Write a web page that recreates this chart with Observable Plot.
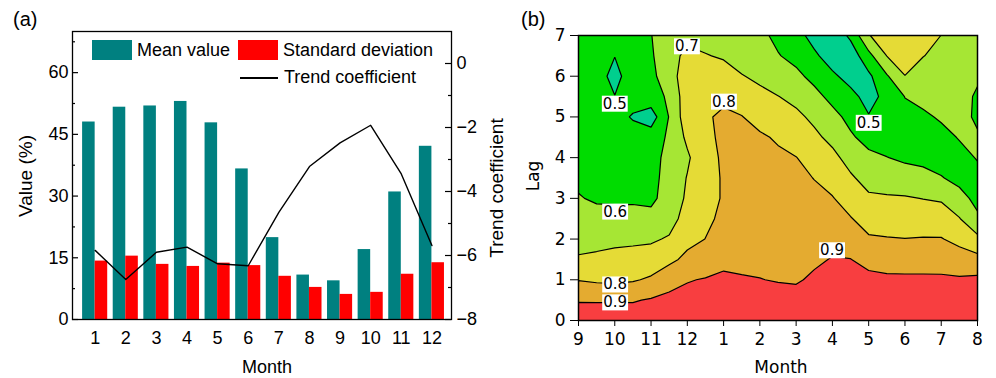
<!DOCTYPE html>
<html><head><meta charset="utf-8">
<script src="https://cdn.jsdelivr.net/npm/d3@7"></script>
<script src="https://cdn.jsdelivr.net/npm/@observablehq/plot@0.6"></script>
<style>
html,body{margin:0;padding:0;background:#fff;}
#wrap{position:relative;width:996px;height:378px;overflow:hidden;background:#fff;}
.abs{position:absolute;white-space:nowrap;line-height:1;color:#000;}
.fa{font-family:"Liberation Sans",Arial,sans-serif;}
.fb{font-family:"DejaVu Sans",sans-serif;}
#wrap svg{position:absolute;top:0;max-width:none;}
</style></head><body><div id="wrap"></div>
<script>
// ---------- Panel (a) data ----------
const monthsA = [1, 2, 3, 4, 5, 6, 7, 8, 9, 10, 11, 12];
const meanValue = [48.0, 51.6, 51.9, 53.0, 47.8, 36.6, 19.9, 10.8, 9.4, 17.0, 31.0, 42.1];
const stdDeviation = [14.2, 15.4, 13.4, 12.9, 13.7, 13.1, 10.5, 7.8, 6.1, 6.6, 11.0, 13.8];
const trendCoefficient = [-5.84, -6.75, -5.90, -5.74, -6.26, -6.32, -4.65, -3.22, -2.48, -1.93, -3.45, -5.69];
const valueTicks = [0, 15, 30, 45, 60];
const valueMinorTicks = [7.5, 22.5, 37.5, 52.5, 67.5];
const trendTicks = [-8, -6, -4, -2, 0];
const trendMinorTicks = [-7, -5, -3, -1];

// ---------- Panel (b) data ----------
const lagMonths = [9, 10, 11, 12, 1, 2, 3, 4, 5, 6, 7, 8];
const lagTicks = [0, 1, 2, 3, 4, 5, 6, 7];
const corrLevels = [0.4, 0.5, 0.6, 0.7, 0.8, 0.9];
const corrColors = ["#00cf8e", "#00dc00", "#a6e634", "#e5db36", "#e4ab30", "#f83e40"];
// correlation sampled every half month (columns, Sep..Aug) and every 0.5 lag (rows, lag 0..7)
const corrRows = [
  [0.95,0.95,0.95,0.95,0.95,0.96,0.96,0.96,0.96,0.96,0.96,0.96,0.96,0.96,0.97,0.97,0.96,0.96,0.96,0.96,0.96,0.96,0.96],
  [0.894,0.893,0.893,0.893,0.908,0.920,0.927,0.940,0.945,0.945,0.940,0.935,0.935,0.940,0.950,0.950,0.950,0.950,0.950,0.950,0.950,0.950,0.950],
  [0.796,0.784,0.780,0.791,0.813,0.870,0.895,0.905,0.915,0.905,0.902,0.895,0.890,0.915,0.930,0.925,0.925,0.915,0.915,0.915,0.915,0.910,0.920],
  [0.709,0.719,0.730,0.737,0.746,0.775,0.825,0.853,0.880,0.885,0.880,0.875,0.870,0.885,0.905,0.902,0.870,0.865,0.862,0.862,0.860,0.850,0.830],
  [0.670,0.670,0.677,0.681,0.686,0.710,0.771,0.801,0.845,0.865,0.865,0.860,0.860,0.860,0.870,0.850,0.810,0.805,0.802,0.805,0.805,0.770,0.725],
  [0.637,0.627,0.623,0.623,0.628,0.660,0.740,0.785,0.815,0.850,0.855,0.850,0.850,0.840,0.840,0.805,0.765,0.760,0.750,0.750,0.745,0.705,0.615],
  [0.605,0.590,0.590,0.590,0.580,0.640,0.715,0.780,0.805,0.840,0.845,0.840,0.835,0.820,0.805,0.760,0.715,0.710,0.708,0.698,0.690,0.630,0.575],
  [0.585,0.575,0.575,0.580,0.575,0.630,0.705,0.780,0.805,0.835,0.835,0.830,0.820,0.798,0.765,0.713,0.665,0.655,0.640,0.630,0.605,0.575,0.575],
  [0.570,0.565,0.565,0.570,0.570,0.625,0.685,0.775,0.810,0.830,0.820,0.815,0.802,0.765,0.725,0.665,0.620,0.602,0.585,0.575,0.565,0.575,0.605],
  [0.565,0.560,0.560,0.550,0.550,0.615,0.720,0.780,0.817,0.820,0.812,0.790,0.760,0.720,0.675,0.612,0.570,0.560,0.560,0.565,0.575,0.605,0.610],
  [0.560,0.555,0.540,0.490,0.450,0.605,0.760,0.785,0.822,0.803,0.770,0.745,0.720,0.680,0.627,0.575,0.505,0.530,0.575,0.585,0.610,0.630,0.585],
  [0.560,0.550,0.502,0.545,0.560,0.615,0.760,0.770,0.775,0.760,0.725,0.702,0.675,0.627,0.575,0.525,0.470,0.525,0.602,0.625,0.640,0.640,0.585],
  [0.560,0.540,0.470,0.550,0.580,0.645,0.770,0.750,0.740,0.705,0.680,0.650,0.620,0.575,0.515,0.470,0.480,0.590,0.698,0.665,0.660,0.650,0.615],
  [0.560,0.545,0.502,0.550,0.590,0.655,0.730,0.705,0.690,0.660,0.645,0.605,0.575,0.515,0.460,0.440,0.570,0.701,0.750,0.702,0.680,0.660,0.630],
  [0.560,0.550,0.540,0.560,0.598,0.640,0.670,0.665,0.660,0.650,0.620,0.580,0.530,0.470,0.430,0.520,0.695,0.750,0.780,0.740,0.699,0.665,0.640]
];
const labelMonthIdx = [1.0, 2.99, 4.01, 8.0, 1.01, 1.01, 1.01, 6.99];
const labelLag = [5.32, 6.73, 5.37, 4.85, 2.67, 0.88, 0.44, 1.72];
const labelText = ["0.5", "0.7", "0.8", "0.5", "0.6", "0.8", "0.9", "0.9"];

// ---------- Panel (a) ----------
const toLeft = t => (t + 8) * 70 / 9;
const fromLeft = v => Math.round(v * 9 / 70 - 8);
const tableA = monthsA.map((m, i) => ({month: m, mean: meanValue[i], sd: stdDeviation[i], trend: toLeft(trendCoefficient[i])}));
const fmt = d3.format("d");

const plotA = Plot.plot({
  width: 515, height: 378,
  marginLeft: 72, marginRight: 64, marginTop: 31, marginBottom: 59,
  style: {fontFamily: '"Liberation Sans", Arial, sans-serif', fontSize: "18px", color: "black", background: "transparent", overflow: "visible"},
  x: {domain: [0.26, 12.64]},
  y: {domain: [0, 70]},
  marks: [
    Plot.rectY(tableA, {x1: d => d.month - 0.41, x2: "month", y: "mean", fill: "#008080"}),
    Plot.rectY(tableA, {x1: "month", x2: d => d.month + 0.41, y: "sd", fill: "#ff0000"}),
    Plot.line(tableA, {x: "month", y: "trend", stroke: "black", strokeWidth: 1.4}),
    Plot.tickY(valueTicks, {y: d => d, insetRight: 373, stroke: "black", strokeWidth: 1.2}),
    Plot.tickY(valueMinorTicks, {y: d => d, insetRight: 376, stroke: "black", strokeWidth: 1.2}),
    Plot.tickY(trendTicks, {y: d => toLeft(d), insetLeft: 373, stroke: "black", strokeWidth: 1.2}),
    Plot.tickY(trendMinorTicks, {y: d => toLeft(d), insetLeft: 376, stroke: "black", strokeWidth: 1.2}),
    Plot.axisY(valueTicks, {anchor: "left", tickSize: 0, tickPadding: 4, label: null}),
    Plot.axisY(trendTicks.map(toLeft), {anchor: "right", tickSize: 0, tickPadding: 5, tickFormat: d => fmt(fromLeft(d)), label: null}),
    Plot.axisX(monthsA, {tickSize: 0, tickPadding: 12, label: null}),
    Plot.frame({stroke: "black", strokeWidth: 1.3})
  ]
});

// ---------- Panel (b) ----------
const corrFlat = corrRows.flat();
const labelData = labelText.map((t, i) => ({x: labelMonthIdx[i], y: labelLag[i], t}));
const plotB = Plot.plot({
  width: 496, height: 378,
  marginLeft: 78, marginRight: 19, marginTop: 35, marginBottom: 58,
  style: {fontFamily: '"DejaVu Sans", sans-serif', fontSize: "17px", color: "black", background: "transparent", overflow: "visible"},
  x: {domain: [0, 11]},
  y: {domain: [0, 7]},
  color: {type: "threshold", domain: corrLevels.slice(1), range: corrColors},
  marks: [
    Plot.contour(corrFlat, {
      width: corrRows[0].length, height: corrRows.length,
      x1: -0.25, x2: 11.25, y1: -0.25, y2: 7.25,
      thresholds: corrLevels, fill: Plot.identity,
      stroke: "black", strokeWidth: 1.2, clip: true
    }),
    Plot.text(labelData, {x: "x", y: "y", text: "t", fontSize: 15, fill: "black", className: "clabel"}),
    Plot.axisX(lagMonths.map((m, i) => i), {tickSize: 6, tickPadding: 6, tickFormat: i => lagMonths[i], label: null}),
    Plot.axisY(lagTicks, {tickSize: 8, tickPadding: 5, label: null}),
    Plot.frame({stroke: "black", strokeWidth: 1.5})
  ]
});

const wrap = document.getElementById("wrap");
plotA.style.left = "0px";
plotB.style.left = "500px";
wrap.appendChild(plotA);
wrap.appendChild(plotB);

// white boxes behind contour labels
plotB.querySelectorAll("g.clabel text").forEach(t => {
  const b = t.getBBox();
  const r = document.createElementNS("http://www.w3.org/2000/svg", "rect");
  r.setAttribute("x", b.x - 1); r.setAttribute("y", b.y + 1);
  r.setAttribute("width", b.width + 2); r.setAttribute("height", b.height - 2);
  r.setAttribute("fill", "white");
  if (t.getAttribute("transform")) r.setAttribute("transform", t.getAttribute("transform"));
  t.parentNode.insertBefore(r, t);
});

// ---------- HTML text: titles, legend ----------
function addText(txt, cls, css) {
  const d = document.createElement("div");
  d.className = "abs " + cls;
  d.textContent = txt;
  Object.assign(d.style, css);
  wrap.appendChild(d);
  return d;
}
function addBox(css) {
  const d = document.createElement("div");
  d.style.position = "absolute";
  Object.assign(d.style, css);
  wrap.appendChild(d);
}
addText("(a)", "fa", {left: "13px", top: "9px", fontSize: "20px"});
addText("(b)", "fa", {left: "521px", top: "9px", fontSize: "20px"});
addText("Value (%)", "fa", {left: "25px", top: "176px", fontSize: "19px", transform: "translate(-50%,-50%) rotate(-90deg)"});
addText("Trend coefficient", "fa", {left: "496px", top: "188px", fontSize: "19px", transform: "translate(-50%,-50%) rotate(-90deg)"});
addText("Month", "fa", {left: "267px", top: "358px", fontSize: "18px", transform: "translateX(-50%)"});
addText("Month", "fb", {left: "781px", top: "359px", fontSize: "17px", transform: "translateX(-50%)"});
addText("Lag", "fb", {left: "533px", top: "176px", fontSize: "17px", transform: "translate(-50%,-50%) rotate(-90deg)"});
// legend
addBox({left: "92px", top: "40px", width: "40px", height: "20px", background: "#008080"});
addText("Mean value", "fa", {left: "137px", top: "41px", fontSize: "18px"});
addBox({left: "238px", top: "40px", width: "40px", height: "20px", background: "#ff0000"});
addText("Standard deviation", "fa", {left: "283px", top: "41px", fontSize: "18px"});
addBox({left: "240px", top: "77px", width: "38px", height: "1.5px", background: "#000"});
addText("Trend coefficient", "fa", {left: "284px", top: "68px", fontSize: "18px"});
</script></body></html>
